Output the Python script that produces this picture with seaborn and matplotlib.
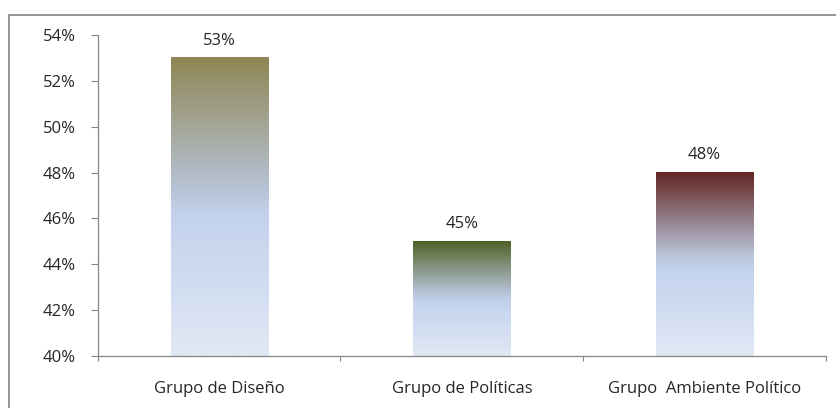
import numpy as np
import pandas as pd
import matplotlib
matplotlib.use("Agg")
import matplotlib.pyplot as plt
import matplotlib.ticker as mticker
from matplotlib.colors import LinearSegmentedColormap
from matplotlib.patches import Rectangle
import seaborn as sns

categories = ["Grupo de Diseño", "Grupo de Políticas", "Grupo  Ambiente Político"]
values = [53, 45, 48]
top_colors = ["#8f8754", "#4f6228", "#632523"]
yticks = [40, 42, 44, 46, 48, 50, 52, 54]

sns.set_theme(style="white")
plt.rcParams["font.family"] = ["Open Sans", "DejaVu Sans"]
FS = 12

fig = plt.figure(figsize=(8.36, 4.08), dpi=100)
ax = fig.add_axes([0.1169, 0.1275, 0.988 - 0.1169, 0.9142 - 0.1275])

df = pd.DataFrame({"cat": categories, "val": values})
sns.barplot(data=df, x="cat", y="val", ax=ax, width=0.4, color="white",
            edgecolor="none", linewidth=0)
ax.set_ylim(40, 54)
ax.set_xlim(-0.5, 2.5)

# gradient fills
for patch, col in zip(ax.patches, top_colors):
    x0, y0 = patch.get_x(), 40
    w = patch.get_width()
    y1 = patch.get_y() + patch.get_height()
    cmap = LinearSegmentedColormap.from_list(
        "g", [(0, "#e1e8f5"), (0.47, "#c3d2ed"), (0.55, "#b8c4d8"), (1.0, col)])
    grad = np.linspace(0, 1, 256).reshape(-1, 1)
    ax.imshow(grad, cmap=cmap, aspect="auto", origin="lower",
              extent=[x0, x0 + w, y0, y1], zorder=2)
    patch.set_visible(False)

for i, v in enumerate(values):
    ax.annotate(f"{v}%", xy=(i, v), xytext=(0, 12.5), textcoords="offset points",
                ha="center", va="center", fontsize=FS, color="#262626")

ax.set_yticks(yticks)
ax.yaxis.set_major_formatter(mticker.FuncFormatter(lambda v, p: f"{int(v)}%"))
ax.tick_params(axis="y", which="major", direction="out", length=5, width=0.8,
               color="#868686", pad=11, labelsize=FS, labelcolor="#262626", left=True)
ax.set_xticks(range(len(categories)))
ax.set_xticklabels(categories)
ax.set_xticks([-0.5, 0.5, 1.5, 2.5], minor=True)
ax.tick_params(axis="x", which="major", length=0, pad=18, labelsize=FS,
               labelcolor="#262626")
ax.tick_params(axis="x", which="minor", direction="out", length=3.5, width=0.8,
               color="#868686", bottom=True)
ax.set_xlabel("")
ax.set_ylabel("")
for s in ["top", "right"]:
    ax.spines[s].set_visible(False)
for s in ["left", "bottom"]:
    ax.spines[s].set_color("#868686")
    ax.spines[s].set_linewidth(0.9)

# outer chart frame (right and bottom edges fall outside the image)
fig.patches.append(Rectangle((8.5 / 836, -10 / 408), (850 - 8.5) / 836, (393 + 10) / 408,
                             transform=fig.transFigure, fill=False,
                             edgecolor="#8c8c8c", linewidth=1.3))

fig.savefig("out.png", dpi=100)
